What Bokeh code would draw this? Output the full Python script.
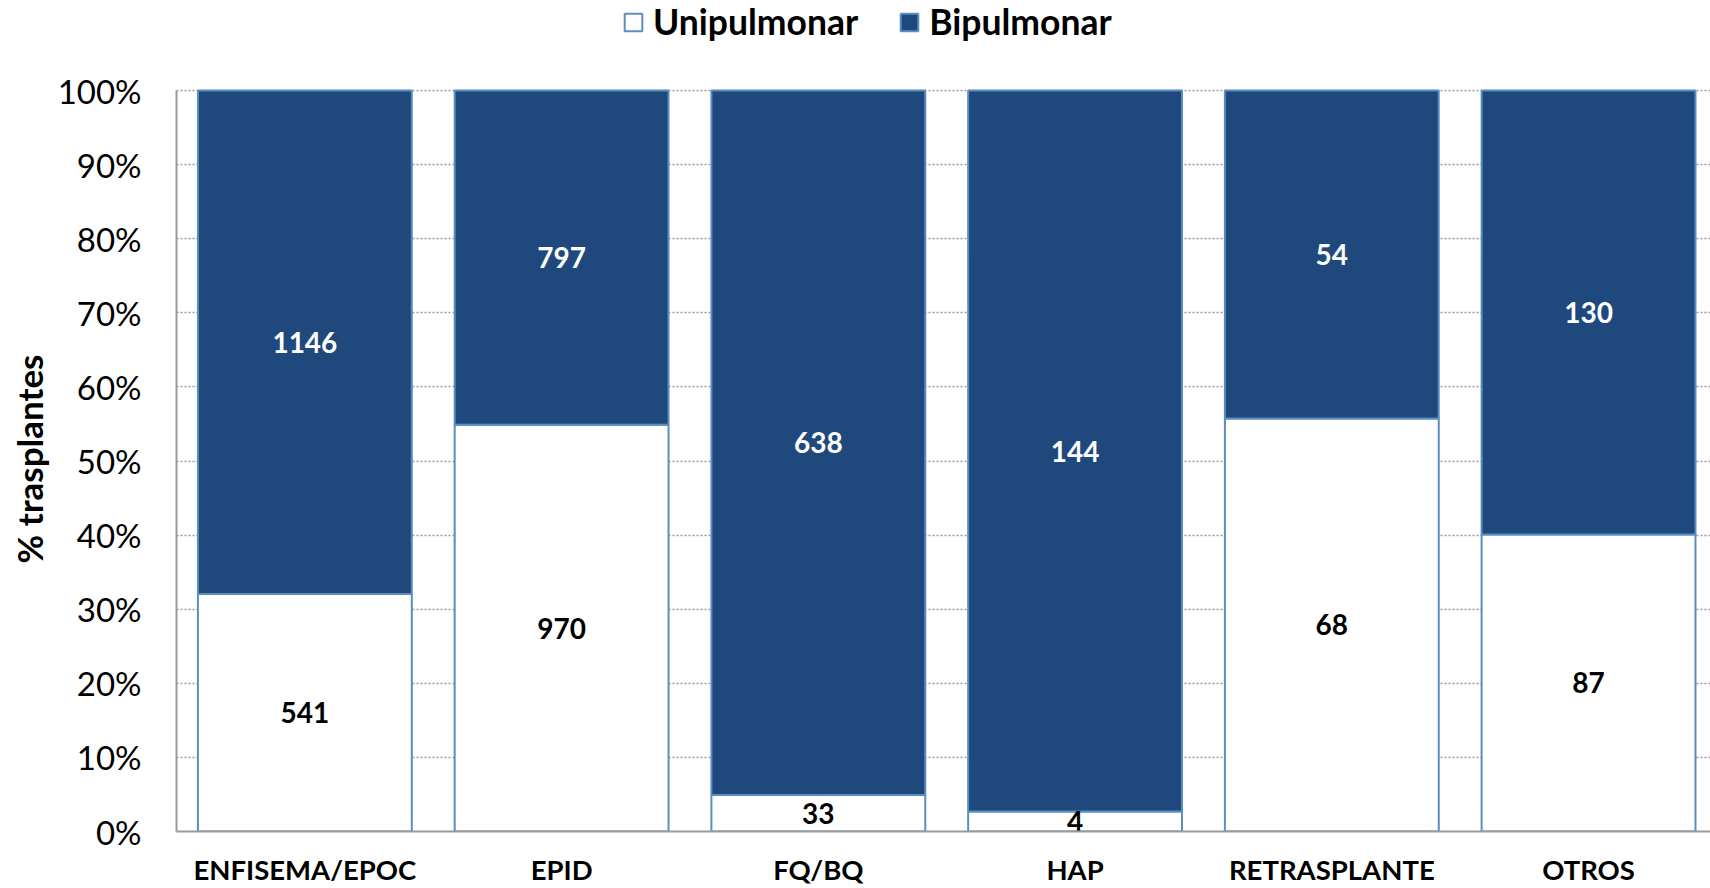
from bokeh.plotting import figure
from bokeh.models import ColumnDataSource, Range1d, FixedTicker, Legend, LegendItem, Title
from bokeh.core.properties import value
from bokeh.embed import file_html
from bokeh.resources import INLINE

categories = ["ENFISEMA/EPOC", "EPID", "FQ/BQ", "HAP", "RETRASPLANTE", "OTROS"]
unipulmonar = [541, 970, 33, 4, 68, 87]
bipulmonar = [1146, 797, 638, 144, 54, 130]
y_ticks = [0.0, 0.1, 0.2, 0.3, 0.4, 0.5, 0.6, 0.7, 0.8, 0.9, 1.0]
y_tick_labels = ["0%", "10%", "20%", "30%", "40%", "50%", "60%", "70%", "80%", "90%", "100%"]

FONT = "Lato"
DARK = "#1F497D"
EDGE = "#5B8EBF"

xs = [i + 0.5 for i in range(len(categories))]
tot = [u + b for u, b in zip(unipulmonar, bipulmonar)]
uf = [u / t for u, t in zip(unipulmonar, tot)]
src = ColumnDataSource(dict(
    x=xs, uf=uf, one=[1.0] * len(xs), zero=[0.0] * len(xs),
    umid=[f / 2 for f in uf], bmid=[(1 + f) / 2 for f in uf],
    ulab=[str(v) for v in unipulmonar], blab=[str(v) for v in bipulmonar],
))

# frame spans from the page top down to the 0% line; 100% sits ~90px below the top
p = figure(width=1710, height=888, output_backend="svg", toolbar_location=None,
           x_range=Range1d(0, 5.975), y_range=Range1d(0, 1.1215))
p.min_border_left = 175
p.min_border_top = 0
p.min_border_bottom = 56
p.min_border_right = 0
p.outline_line_color = None
p.background_fill_color = "white"

w = 0.833
r_uni = p.vbar(x="x", width=w, bottom="zero", top="uf", source=src,
               fill_color="white", line_color=EDGE, line_width=2)
r_bi = p.vbar(x="x", width=w, bottom="uf", top="one", source=src,
              fill_color=DARK, line_color=EDGE, line_width=2)

p.text(x="x", y="umid", text="ulab", source=src, text_align="center", text_baseline="middle",
       text_font=value(FONT), text_font_style="bold", text_font_size="28px", text_color="black")
p.text(x="x", y="bmid", text="blab", source=src, text_align="center", text_baseline="middle",
       text_font=value(FONT), text_font_style="bold", text_font_size="28px", text_color="white")

# axes
p.xgrid.visible = False
p.ygrid.ticker = FixedTicker(ticks=y_ticks)
p.ygrid.grid_line_color = "#9A9A9A"
p.ygrid.grid_line_dash = "2 2"
p.ygrid.grid_line_width = 1.5

p.yaxis.ticker = FixedTicker(ticks=y_ticks)
p.yaxis.bounds = (0, 1)
p.yaxis.major_label_overrides = {t: l for t, l in zip(y_ticks, y_tick_labels)}
p.yaxis.major_tick_line_color = None
p.yaxis.minor_tick_line_color = None
p.yaxis.axis_line_color = "#9A9A9A"
p.yaxis.axis_line_width = 2
p.yaxis.major_label_standoff = 29
p.yaxis.major_label_text_font = FONT
p.yaxis.major_label_text_font_size = "33px"
p.yaxis.major_label_text_color = "black"

# y-axis title, centred on the 0%-100% span rather than on the whole frame
ytitle = Title(text="% trasplantes", align="left", offset=268,
               text_font=FONT, text_font_style="bold", text_font_size="35px",
               text_color="black", standoff=10)
p.add_layout(ytitle, "left")

p.xaxis.ticker = FixedTicker(ticks=xs)
p.xaxis.major_label_overrides = {x: c for x, c in zip(xs, categories)}
p.xaxis.major_tick_line_color = None
p.xaxis.minor_tick_line_color = None
p.xaxis.axis_line_color = "#9A9A9A"
p.xaxis.axis_line_width = 2
p.xaxis.major_label_standoff = 15
p.xaxis.major_label_text_font = FONT
p.xaxis.major_label_text_font_style = "bold"
p.xaxis.major_label_text_font_size = "27.5px"
p.xaxis.major_label_text_color = "black"

legend = Legend(items=[LegendItem(label="Unipulmonar", renderers=[r_uni]),
                       LegendItem(label="Bipulmonar", renderers=[r_bi])],
                orientation="horizontal", location=(446, 788),
                border_line_color=None, background_fill_alpha=0,
                padding=0, margin=0, spacing=40,
                glyph_width=22, glyph_height=22, label_standoff=9,
                label_text_font=FONT, label_text_font_style="bold",
                label_text_font_size="35.5px", label_text_color="black")
p.add_layout(legend, "center")

open("out.html", "w").write(file_html(p, INLINE))
